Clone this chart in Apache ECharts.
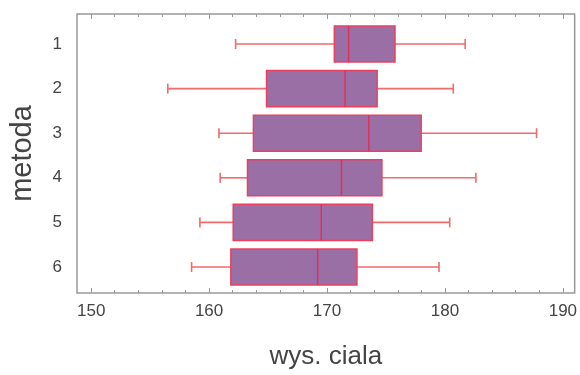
<!DOCTYPE html>
<html>
<head>
<meta charset="utf-8">
<script src="https://cdn.jsdelivr.net/npm/echarts@6/dist/echarts.min.js"></script>
<style>
  html, body { margin: 0; padding: 0; background: #fff; }
  #chart { width: 580px; height: 375px; }
</style>
</head>
<body>
<div id="chart"></div>
<script>
const methods = ['1', '2', '3', '4', '5', '6'];
// [min, Q1, median, Q3, max]
const boxStats = [
  [162.3, 170.6, 171.8, 175.7, 181.6],
  [156.6, 164.9, 171.5, 174.2, 180.6],
  [160.9, 163.8, 173.5, 177.9, 187.6],
  [161.0, 163.3, 171.2, 174.6, 182.5],
  [159.3, 162.1, 169.5, 173.8, 180.3],
  [158.6, 161.9, 169.2, 172.5, 179.4]
];
const xTicks = [150, 160, 170, 180, 190];
const xMin = 148.8;
const xMax = 191;

const chart = echarts.init(document.getElementById('chart'));

const frameColor = '#999';
const textColor = '#444';
const font = 'Liberation Sans';
const boxFill = '#9a6fa6';
const boxLine = '#ea4060';
const whiskerLine = '#f26a6a';

function renderBox(params, api) {
  const cat = api.value(0);
  const vals = [api.value(1), api.value(2), api.value(3), api.value(4), api.value(5)];
  const pts = vals.map(v => api.coord([v, cat]));
  const y = pts[0][1];
  const h = api.size([0, 1])[1] * 0.81;
  const cap = 5;
  const wStyle = { stroke: whiskerLine, lineWidth: 1.6 };
  return {
    type: 'group',
    children: [
      { type: 'line', shape: { x1: pts[0][0], y1: y, x2: pts[1][0], y2: y }, style: wStyle },
      { type: 'line', shape: { x1: pts[3][0], y1: y, x2: pts[4][0], y2: y }, style: wStyle },
      { type: 'line', shape: { x1: pts[0][0], y1: y - cap, x2: pts[0][0], y2: y + cap }, style: wStyle },
      { type: 'line', shape: { x1: pts[4][0], y1: y - cap, x2: pts[4][0], y2: y + cap }, style: wStyle },
      {
        type: 'rect',
        shape: { x: pts[1][0], y: y - h / 2, width: pts[3][0] - pts[1][0], height: h },
        style: { fill: boxFill, stroke: boxLine, lineWidth: 1.5 }
      },
      { type: 'line', shape: { x1: pts[2][0], y1: y - h / 2, x2: pts[2][0], y2: y + h / 2 }, style: { stroke: '#e0305a', lineWidth: 1.5 } }
    ]
  };
}

const option = {
  animation: false,
  grid: [
    // frame + ticks
    { left: 75, right: 3, top: 14, bottom: 78, show: true, borderColor: frameColor, borderWidth: 1.5 },
    // boxes
    { left: 75, right: 3, top: 21.7, bottom: 85.7 }
  ],
  xAxis: [
    {
      gridIndex: 0, type: 'value', min: xMin, max: xMax,
      name: 'wys. ciala', nameLocation: 'middle', nameGap: 51,
      nameTextStyle: { fontSize: 26, color: textColor, fontFamily: font },
      axisLine: { show: false },
      axisTick: { show: true, inside: true, length: 5, lineStyle: { color: frameColor }, customValues: xTicks },
      minorTick: { show: true, splitNumber: 5, length: 3, lineStyle: { color: frameColor } },
      splitLine: { show: false },
      axisLabel: { fontSize: 17, color: textColor, fontFamily: font, margin: 10, customValues: xTicks }
    },
    {
      gridIndex: 0, type: 'value', position: 'top', min: xMin, max: xMax,
      axisLine: { show: false },
      axisLabel: { show: false },
      splitLine: { show: false },
      axisTick: { show: true, inside: true, length: 5, lineStyle: { color: frameColor }, customValues: xTicks },
      minorTick: { show: true, splitNumber: 5, length: 3, lineStyle: { color: frameColor } }
    },
    { gridIndex: 1, type: 'value', min: xMin, max: xMax, show: false }
  ],
  yAxis: [
    {
      gridIndex: 0, type: 'value', min: 0, max: 1,
      name: 'metoda', nameLocation: 'middle', nameGap: 40,
      nameTextStyle: { fontSize: 29, color: textColor, fontFamily: font },
      axisLine: { show: false }, axisTick: { show: false },
      axisLabel: { show: false }, splitLine: { show: false }
    },
    {
      gridIndex: 1, type: 'category', data: methods, inverse: true,
      axisLine: { show: false }, axisTick: { show: false },
      splitLine: { show: false },
      axisLabel: { fontSize: 17, color: textColor, fontFamily: font, margin: 13 }
    }
  ],
  series: [
    {
      type: 'custom',
      xAxisIndex: 2,
      yAxisIndex: 1,
      renderItem: renderBox,
      encode: { x: [1, 2, 3, 4, 5], y: 0 },
      data: boxStats.map((s, i) => [i].concat(s))
    }
  ]
};

chart.setOption(option);
</script>
</body>
</html>
